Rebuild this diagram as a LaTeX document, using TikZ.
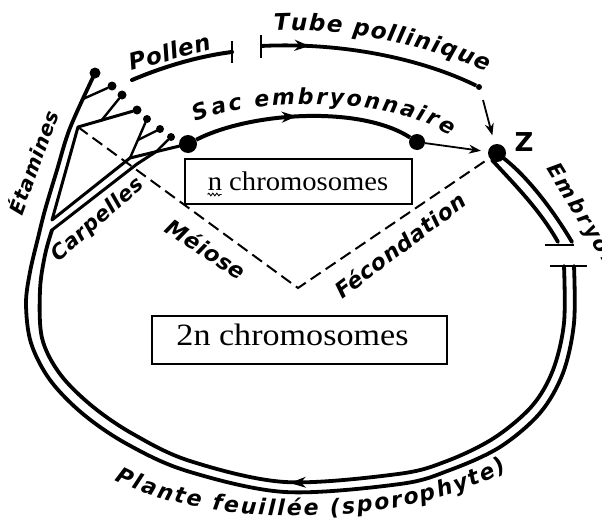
\documentclass[tikz,border=0pt]{standalone}
\usepackage{fontspec}
\usepackage{graphicx}
\setmainfont{Liberation Serif}
\newfontfamily\lblfont{DejaVu Sans}[LetterSpace=3]
\newfontfamily\lblplain{DejaVu Sans}
\usetikzlibrary{arrows.meta,decorations.text,decorations.markings,decorations.pathmorphing}
\begin{document}
\begin{tikzpicture}[x=1pt,y=-1pt,
  track/.style={line width=3.8pt, line cap=round, line join=round},
  stem/.style={line width=3pt, line cap=round, line join=round},
  twig/.style={line width=2.4pt, line cap=round},
  blob/.style={circle, fill=black, inner sep=0pt, minimum size=#1},
  blob/.default=8pt,
  dsh/.style={line width=2pt, dash pattern=on 12pt off 6pt},
  lbl/.style={font=\lblfont\bfseries\itshape\fontsize{22}{22}\selectfont, inner sep=0pt},
  chbox/.style={draw, line width=1.3pt, inner sep=0pt},
  tickmark/.style={line width=2.6pt},
  thinarrow/.style={line width=1.8pt, -{Stealth[length=12pt,width=9pt]}},
  midarrow/.style={postaction={decorate}, decoration={markings, mark=at position #1 with {\arrow{Stealth[length=15pt,width=11pt]}}}},
]
\useasboundingbox (0,0) rectangle (602,522);

% ---- dots
\node[blob=11pt] (s0) at (95,73) {};
\node[blob=9pt] (s1) at (112,86) {};
\node[blob=9pt] (s2) at (122,95) {};
\node[blob=9pt] (s3) at (137,110) {};
\node[blob=8pt] (c1) at (147,119) {};
\node[blob=8pt] (c2) at (160,129) {};
\node[blob=8pt] (c3) at (171,137) {};
\node[blob=18pt] (c4) at (188,144) {};
\node[blob=16pt] (sacend) at (417,142) {};
\node[blob=18pt] (z) at (497,153) {};
\node[blob=6pt] (tubeend) at (479,87) {};

% ---- helper coordinates
\coordinate (j1) at (78,127);
\coordinate (v) at (52,220);
\coordinate (cax) at (130,158);
\coordinate (cmid) at (156,151.7);
\coordinate (cj) at (52,230);
\coordinate (clow) at (137,164);
\coordinate (b1) at (83,99);
\coordinate (b2) at (101,121);
\coordinate (b3) at (138,140);
\coordinate (vert) at (298,288);
\coordinate (pollenstart) at (132,80);
\coordinate (pollenend) at (232,52);
\coordinate (tubestart) at (261,46);
\coordinate (tubearrow) at (483,100);

% ---- main double track (outer and inner lines)
\draw[track] plot[smooth, tension=0.55] coordinates {(95,73) (70,128) (57,170) (45,210) (38,238) (30,272) (26,304) (31,343) (50,380) (83,414) (127,444) (187,471) (285,492) (400,484) (450,470) (500,447) (540,413) (563,373) (574,323) (574,266)};
\draw[track] plot[smooth, tension=0.55] coordinates {(cj) (45,255) (40,290) (42,338) (60,374) (92,406) (133,434) (190,461) (285,482) (398,474) (447,461) (494,438) (532,406) (553,370) (564,323) (564,266)};
\draw[tickmark] (550,266) -- (587,266);

% ---- etamines and carpelles
\draw[stem] (s3) -- (j1) -- (v) -- (cax) -- (cmid) -- (c4);
\draw[stem] (cj) -- (clow) -- (cmid);
\draw[twig] (b1) -- (s1);
\draw[twig] (b2) -- (s2);
\draw[twig] (cax) -- (c1);
\draw[twig] (b3) -- (c2);
\draw[twig] (cmid) -- (c3);

% ---- embryon segment
\draw[track] (z) .. controls (525,175) and (550,205) .. (572,242);
\draw[track] (492,160) .. controls (515,185) and (540,210) .. (558,242);
\draw[tickmark] (545,245) -- (574,245);

% ---- pollen and tube
\draw[line width=4pt, line cap=round] (pollenstart) .. controls (165,66) and (200,56) .. (pollenend);
\draw[tickmark] (232,41) -- (232,63);
\draw[tickmark] (261,35) -- (261,58);
\draw[line width=3.8pt, midarrow=0.22] (tubestart) .. controls (340,42) and (420,58) .. (tubeend);
\draw[thinarrow, shorten >=9pt] (tubearrow) -- (z);

% ---- sac embryonnaire
\draw[line width=4pt, midarrow=0.47] (c4) .. controls (250,112) and (360,105) .. (sacend);
\draw[thinarrow, shorten >=7pt] (sacend) -- (z);

% ---- meiose / fecondation
\draw[dsh] (j1) -- (vert) -- (z);

% ---- bottom arrow
\coordinate (barr1) at (312,482);
\coordinate (barr2) at (290,483);
\draw[line width=1.2pt, -{Stealth[length=16pt,width=11pt]}] (barr1) -- (barr2);

% ---- boxes
\node[chbox, minimum width=227pt, minimum height=45pt] (nbox) at (298.5,181.5) {};
\node[anchor=base, inner sep=0pt, font=\fontsize{27}{27}\selectfont] (ntext) at (298,190) {\scalebox{1.06}[1]{n chromosomes}};
\draw[line width=0.9pt, decorate, decoration={snake, amplitude=1.3pt, segment length=4pt}] ([yshift=-4.5pt]ntext.base west) -- ++(14,0);
\node[chbox, minimum width=295pt, minimum height=48pt] (nnbox) at (299.5,340) {};
\node[anchor=base, inner sep=0pt, font=\fontsize{31}{31}\selectfont] (nntext) at (292.5,345) {\scalebox{1.1}[1]{2n chromosomes}};

% ---- labels
\node[lbl, rotate=15, anchor=base, font=\lblfont\bfseries\itshape\fontsize{23}{23}\selectfont] (pollen) at (172,60) {Pollen};
\node[lbl, rotate=70, font=\lblfont\bfseries\itshape\fontsize{20}{20}\selectfont] (etam) at (32,162) {Étamines};
\node[lbl, rotate=41, font=\lblfont\bfseries\itshape\fontsize{21}{21}\selectfont] (carp) at (98,220) {Carpelles};
\node[lbl, rotate=-33] (meiose) at (206,249) {Méiose};
\node[lbl, rotate=37] (fecond) at (400,245) {Fécondation};
\node[font=\lblplain\bfseries\fontsize{26}{26}\selectfont, inner sep=0pt] (zl) at (524,142) {Z};

\path[decorate, decoration={text along path, text align={fit to path}, text={|\lblplain\bfseries\itshape\fontsize{23}{23}\selectfont|Tube pollinique}}] (274,31) .. controls (340,27) and (430,45) .. (487,72);
\path[decorate, decoration={text along path, text align={fit to path}, text={|\lblplain\bfseries\itshape\fontsize{22}{22}\selectfont|Sac embryonnaire}}] (196,122) .. controls (250,97) and (390,95) .. (450,136);
\path[decorate, decoration={text along path, text align={fit to path}, text={|\lblplain\bfseries\itshape\fontsize{22}{22}\selectfont|Plante feuillée (sporophyte)}}] (115,480) .. controls (200,527) and (400,532) .. (507,470);
\path[decorate, decoration={text along path, text align={fit to path}, text={|\lblplain\bfseries\itshape\fontsize{21}{21}\selectfont|Embryon}}] (546,168) -- (608,270);
\end{tikzpicture}
\end{document}
